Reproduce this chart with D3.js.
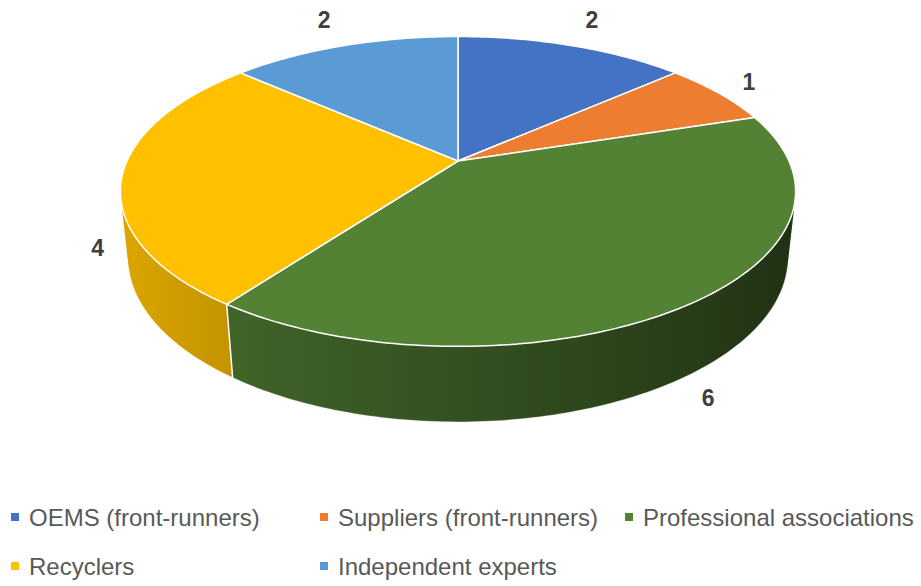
<!DOCTYPE html>
<html>
<head>
<meta charset="utf-8">
<script src="https://cdn.jsdelivr.net/npm/d3@7/dist/d3.min.js"></script>
<style>
  html, body { margin: 0; padding: 0; background: #ffffff; }
  svg { display: block; }
</style>
</head>
<body>
<svg id="chart" width="921" height="586"></svg>
<script>
// Stakeholder groups and their counts
const categories = ["OEMS (front-runners)", "Suppliers (front-runners)", "Professional associations", "Recyclers", "Independent experts"];
const counts = [2, 1, 6, 4, 2];
const colors = ["#4472C4", "#ED7D31", "#548235", "#FFC000", "#5B9BD5"];

const svg = d3.select("#chart");
const defs = svg.append("defs");

// Perspective camera for a tilted 3D pie (radius 1, thickness `depth`)
const view = {
  cx: 458, cy: 161,      // screen position of the pie's centre
  k: 331,                 // pixels per unit radius at the centre's depth
  dist: 4.545,            // camera distance in radius units
  tilt: Math.asin(0.45),  // elevation angle
  depth: 0.225            // slab thickness in radius units
};
const sinT = Math.sin(view.tilt), cosT = Math.cos(view.tilt);

// theta: clockwise from 12 o'clock (far side); r: radius; z: 0 top, negative downward
function proj(theta, r, z) {
  const x = r * Math.sin(theta), y = r * Math.cos(theta);
  const d = view.dist + y * cosT - z * sinT;
  const up = y * sinT + z * cosT;
  const s = view.k * view.dist / d;
  return [view.cx + x * s, view.cy - up * s];
}

const pie = d3.pie().sort(null).value(d => d).startAngle(0).endAngle(2 * Math.PI);
const arcs = pie(counts);

const step = Math.PI / 180;
function samples(a0, a1) {
  const n = Math.max(2, Math.ceil((a1 - a0) / step));
  return d3.range(n + 1).map(i => a0 + (a1 - a0) * i / n);
}

// Side visibility: outward normal faces the camera
const limit = Math.acos(-1 / (view.dist * cosT));
const visLo = limit, visHi = 2 * Math.PI - limit;

// Wall lighting: brighter on the left, darker on the right
function shade(hex, theta) {
  const f = Math.max(0.3, Math.min(1, 0.62 - 0.26 * Math.sin(theta)));
  const c = d3.rgb(hex);
  return d3.rgb(c.r * f, c.g * f, c.b * f).formatHex();
}

const gSide = svg.append("g");
const gTop = svg.append("g");
const gLab = svg.append("g");

// Outer wall of each slice, one path with a horizontal shading gradient
arcs.forEach((a, i) => {
  const lo = Math.max(a.startAngle, visLo), hi = Math.min(a.endAngle, visHi);
  if (hi <= lo) return;
  const ts = samples(lo, hi);
  const topPts = ts.map(t => proj(t, 1, 0));
  const botPts = ts.map(t => proj(t, 1, -view.depth)).reverse();
  const xs = topPts.map(p => p[0]);
  const x0 = d3.min(xs), x1 = d3.max(xs);
  const id = "wall" + i;
  const grad = defs.append("linearGradient")
    .attr("id", id)
    .attr("gradientUnits", "userSpaceOnUse")
    .attr("x1", x0).attr("y1", 0).attr("x2", x1).attr("y2", 0);
  const stops = ts.map((t, j) => ({ off: (xs[j] - x0) / (x1 - x0), col: shade(colors[i], t) }))
    .sort((p, q) => p.off - q.off);
  grad.selectAll("stop").data(stops).join("stop")
    .attr("offset", d => d.off)
    .attr("stop-color", d => d.col);
  gSide.append("path")
    .attr("d", "M" + topPts.concat(botPts).map(p => p.join(",")).join("L") + "Z")
    .attr("fill", `url(#${id})`);
});

// White seams on the wall where slices meet
arcs.forEach(a => {
  const t = a.startAngle;
  if (t > visLo && t < visHi) {
    const p0 = proj(t, 1, 0), p1 = proj(t, 1, -view.depth);
    gSide.append("line")
      .attr("x1", p0[0]).attr("y1", p0[1])
      .attr("x2", p1[0]).attr("y2", p1[1])
      .attr("stroke", "#ffffff").attr("stroke-width", 1.5);
  }
});

// Faint light edge along the bottom rim
gSide.append("path")
  .attr("d", d3.line()(samples(visLo, visHi).map(t => proj(t, 1, -view.depth))))
  .attr("fill", "none")
  .attr("stroke", "rgba(255,255,255,0.35)")
  .attr("stroke-width", 1);

// Top face slices
const centre = proj(0, 0, 0);
arcs.forEach((a, i) => {
  const rim = samples(a.startAngle, a.endAngle).map(t => proj(t, 1, 0));
  gTop.append("path")
    .attr("d", "M" + centre.join(",") + "L" + rim.map(p => p.join(",")).join("L") + "Z")
    .attr("fill", colors[i])
    .attr("stroke", "#ffffff")
    .attr("stroke-width", 1.5)
    .attr("stroke-linejoin", "round");
});

// Value labels: pushed outward from the rim (top rim at the back, bottom rim at the front)
const ellCentre = (() => {
  const a = proj(0, 1, 0), b = proj(Math.PI, 1, 0);
  return [(a[0] + b[0]) / 2, (a[1] + b[1]) / 2];
})();
const labelGap = 32;
arcs.forEach(a => {
  const mid = (a.startAngle + a.endAngle) / 2;
  const z = Math.cos(mid) >= 0 ? 0 : -view.depth;
  const p = proj(mid, 1, z);
  const dx = p[0] - ellCentre[0], dy = p[1] - ellCentre[1];
  const len = Math.hypot(dx, dy);
  gLab.append("text")
    .attr("x", p[0] + dx / len * labelGap)
    .attr("y", p[1] + dy / len * labelGap)
    .attr("text-anchor", "middle")
    .attr("dominant-baseline", "central")
    .attr("font-family", "'Liberation Sans', Arial, sans-serif")
    .attr("font-weight", "bold")
    .attr("font-size", 23)
    .attr("fill", "#404040")
    .text(a.data);
});

// Legend
const legendCols = [11, 320, 625];
const legendRows = [517, 566];
const gLeg = svg.append("g");
categories.forEach((name, i) => {
  const col = i % 3, row = Math.floor(i / 3);
  const x = legendCols[col], y = legendRows[row];
  gLeg.append("rect")
    .attr("x", x).attr("y", y - 4)
    .attr("width", 8).attr("height", 8)
    .attr("fill", colors[i]);
  gLeg.append("text")
    .attr("x", x + 18).attr("y", y)
    .attr("dominant-baseline", "central")
    .attr("font-family", "'Liberation Sans', Arial, sans-serif")
    .attr("font-size", 24)
    .attr("fill", "#595959")
    .text(name);
});
</script>
</body>
</html>
